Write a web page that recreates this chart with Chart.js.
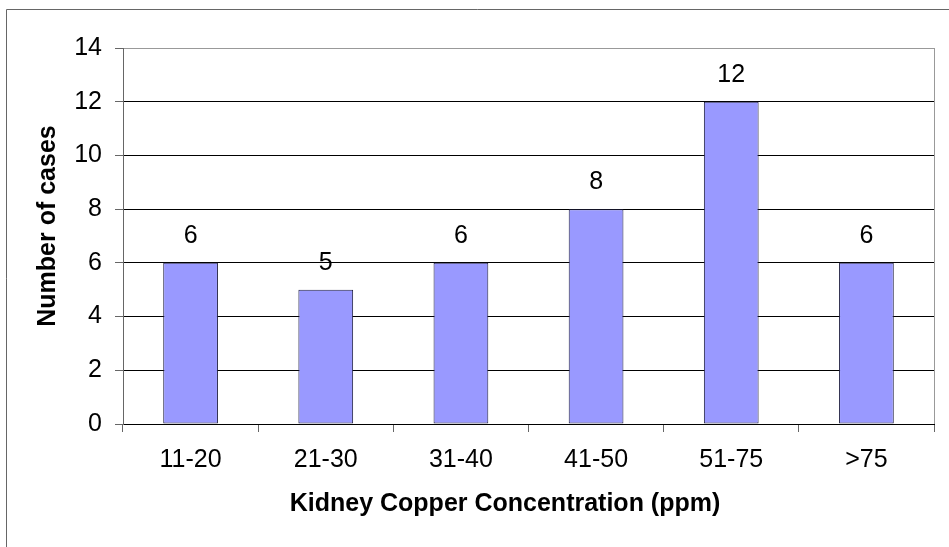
<!DOCTYPE html>
<html>
<head>
<meta charset="utf-8">
<script src="https://cdn.jsdelivr.net/npm/chart.js@4.4.1/dist/chart.umd.min.js"></script>
<style>
  html, body { margin: 0; padding: 0; background: #fff; }
  #wrap { width: 949px; height: 547px; }
</style>
</head>
<body>
<div id="wrap"><canvas id="copperChart" width="949" height="547"></canvas></div>
<script>
// Data
const categories = ['11-20', '21-30', '31-40', '41-50', '51-75', '>75'];
const cases = [6, 5, 6, 8, 12, 6];
const yTicks = [0, 2, 4, 6, 8, 10, 12, 14];
const xTitle = 'Kidney Copper Concentration (ppm)';
const yTitle = 'Number of cases';

const FONT = "'Liberation Sans', Arial, sans-serif";

// Outer frame + right border of the plot area
const framePlugin = {
  id: 'frame',
  beforeDraw(chart) {
    const ctx = chart.ctx;
    ctx.save();
    ctx.lineWidth = 1;
    ctx.strokeStyle = '#666';
    ctx.beginPath();
    ctx.moveTo(6.5, 547);
    ctx.lineTo(6.5, 9.5);
    ctx.lineTo(949, 9.5);
    ctx.stroke();
    ctx.restore();
  },
  afterDraw(chart) {
    const { ctx, chartArea } = chart;
    ctx.save();
    ctx.strokeStyle = '#999';
    ctx.lineWidth = 1;
    ctx.beginPath();
    ctx.moveTo(Math.round(chartArea.right) + 0.5, chartArea.top);
    ctx.lineTo(Math.round(chartArea.right) + 0.5, chartArea.bottom);
    ctx.stroke();
    ctx.restore();
  }
};

// Axis titles (Excel places them off-centre from the plot area)
const axisTitles = {
  id: 'axisTitles',
  afterDraw(chart) {
    const ctx = chart.ctx;
    ctx.save();
    ctx.font = 'bold 25px ' + FONT;
    ctx.fillStyle = '#000';
    ctx.textAlign = 'center';
    ctx.textBaseline = 'middle';
    ctx.fillText(xTitle, 505, 504);
    ctx.translate(48, 226);
    ctx.rotate(-Math.PI / 2);
    ctx.fillText(yTitle, 0, 0);
    ctx.restore();
  }
};

// Value labels above each bar
const valueLabels = {
  id: 'valueLabels',
  afterDatasetsDraw(chart) {
    const ctx = chart.ctx;
    const meta = chart.getDatasetMeta(0);
    ctx.save();
    ctx.font = '25px ' + FONT;
    ctx.fillStyle = '#000';
    ctx.textAlign = 'center';
    ctx.textBaseline = 'middle';
    meta.data.forEach((bar, i) => {
      ctx.fillText(String(cases[i]), bar.x, bar.y - 27);
    });
    ctx.restore();
  }
};

new Chart(document.getElementById('copperChart'), {
  type: 'bar',
  data: {
    labels: categories,
    datasets: [{
      data: cases,
      backgroundColor: '#9999FF',
      borderColor: '#222244',
      borderWidth: 1,
      borderSkipped: false,
      barPercentage: 0.405,
      categoryPercentage: 1
    }]
  },
  options: {
    responsive: false,
    animation: false,
    layout: { padding: { left: 0, top: 48, right: 15, bottom: 0 } },
    plugins: {
      legend: { display: false },
      tooltip: { enabled: false }
    },
    scales: {
      x: {
        afterFit: (s) => { s.height = 123; },
        grid: {
          offset: true,
          drawOnChartArea: false,
          tickLength: 8,
          tickColor: '#666'
        },
        border: { color: '#000' },
        ticks: {
          color: '#000',
          padding: 13,
          font: { family: FONT, size: 25 }
        }
      },
      y: {
        min: 0,
        max: 14,
        afterFit: (s) => { s.width = 123; },
        afterBuildTicks: (s) => { s.ticks = yTicks.map(v => ({ value: v })); },
        grid: {
          color: (c) => (c.tick && c.tick.value === 14 ? '#999' : '#000'),
          tickLength: 8,
          tickColor: '#666'
        },
        border: { color: '#666' },
        ticks: {
          color: '#000',
          padding: 13,
          font: { family: FONT, size: 25 }
        }
      }
    }
  },
  plugins: [framePlugin, valueLabels, axisTitles]
});
</script>
</body>
</html>
